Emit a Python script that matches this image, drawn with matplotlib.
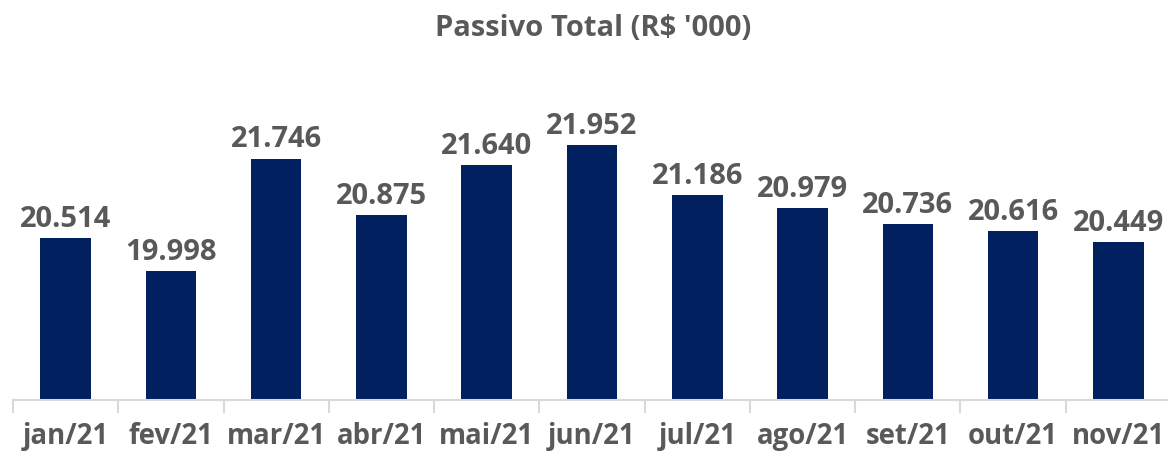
import matplotlib.pyplot as plt

# Data
meses = ["jan/21", "fev/21", "mar/21", "abr/21", "mai/21", "jun/21",
         "jul/21", "ago/21", "set/21", "out/21", "nov/21"]
passivo = [20.514, 19.998, 21.746, 20.875, 21.640, 21.952,
           21.186, 20.979, 20.736, 20.616, 20.449]
rotulos = ["20.514", "19.998", "21.746", "20.875", "21.640", "21.952",
           "21.186", "20.979", "20.736", "20.616", "20.449"]

navy = "#002060"
cinza = "#595959"
plt.rcParams['font.family'] = ['Open Sans', 'DejaVu Sans']

fig = plt.figure(figsize=(11.68, 4.57), dpi=100)
ax = fig.add_axes([13 / 1168, 57 / 457, 1158 / 1168, 290 / 457])

x = range(len(meses))
bars = ax.bar(x, passivo, width=0.48, color=navy, zorder=2)
ax.set_ylim(18, 22.5)
ax.set_xlim(-0.5, len(meses) - 0.5)

for b, txt in zip(bars, rotulos):
    ax.annotate(txt, (b.get_x() + b.get_width() / 2, b.get_height()),
                xytext=(0, 3), textcoords="offset points",
                ha="center", va="bottom", fontsize=21, fontweight="bold",
                color=cinza)

# axis styling
for s in ["top", "right", "left"]:
    ax.spines[s].set_visible(False)
ax.spines["bottom"].set_color("#d9d9d9")
ax.spines["bottom"].set_linewidth(1.5)
ax.set_yticks([])

ax.set_xticks([i - 0.5 for i in range(len(meses) + 1)], minor=False)
ax.set_xticklabels([])
ax.tick_params(axis="x", which="major", length=9, width=1.5, color="#d9d9d9")
ax.set_xticks(list(x), minor=True)
ax.set_xticklabels(meses, minor=True)
ax.tick_params(axis="x", which="minor", length=0, pad=16, labelsize=19.8,
               labelcolor=cinza)
for lbl in ax.get_xticklabels(minor=True):
    lbl.set_fontweight("bold")

fig.text(593 / 1168, 1 - 28 / 457, "Passivo Total (R$ '000)", ha="center",
         va="center", fontsize=21, fontweight="bold", color=cinza)

fig.savefig("out.png", dpi=100)
